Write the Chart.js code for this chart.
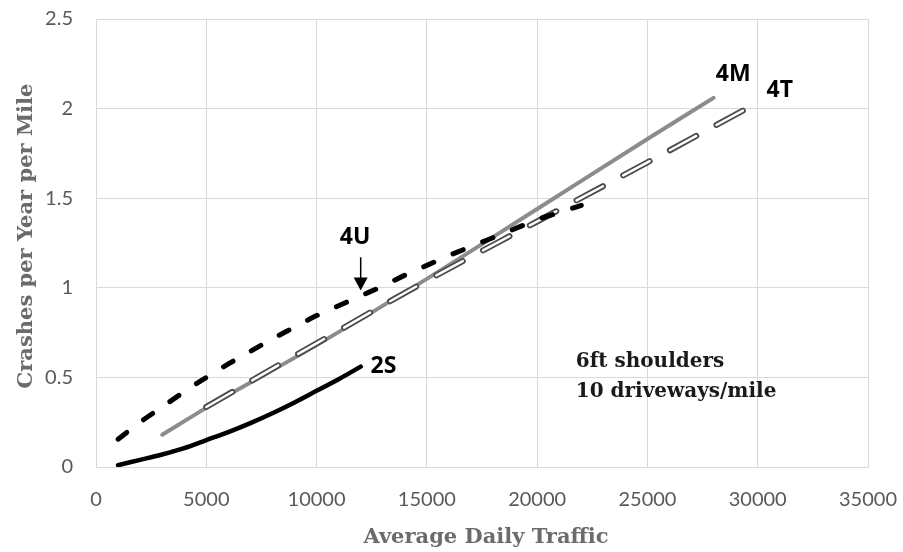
<!DOCTYPE html>
<html>
<head>
<meta charset="utf-8">
<script src="https://cdn.jsdelivr.net/npm/chart.js@4.4.0/dist/chart.umd.min.js"></script>
<style>
    html, body { margin: 0; padding: 0; background: #ffffff; }
</style>
</head>
<body>
<canvas id="crashChart" width="903" height="552"></canvas>
<script>
// ---------------------------------------------
// DATA
// ---------------------------------------------
const xTicks = [0, 5000, 10000, 15000, 20000, 25000, 30000, 35000];
const yTicks = [0, 0.5, 1, 1.5, 2, 2.5];

// 2S - two-lane with shoulders
const adt2S = [1000, 2000, 3000, 4000, 5000, 6000, 7000, 8000, 9000, 10000, 11000, 12000];
const crashes2S = [0.01, 0.04, 0.07, 0.105, 0.15, 0.195, 0.245, 0.30, 0.36, 0.425, 0.49, 0.56];

// 4U - four-lane undivided
const adt4U = [1000, 2000, 3000, 4000, 5000, 6000, 7000, 8000, 9000, 10000, 11000,
               12000, 13000, 14000, 15000, 16000, 17000, 18000, 19000, 20000, 21000, 22000];
const crashes4U = [0.155, 0.25, 0.335, 0.42, 0.50, 0.575, 0.645, 0.715, 0.78, 0.845, 0.90,
                   0.955, 1.01, 1.07, 1.125, 1.18, 1.23, 1.28, 1.33, 1.38, 1.42, 1.46];

// 4M - four-lane median divided
const adt4M = [3000, 5000, 10000, 15000, 20000, 25000, 28000];
const crashes4M = [0.18, 0.33, 0.68, 1.05, 1.44, 1.83, 2.06];

// 4T - four-lane with two-way left turn lane
const adt4T = [5000, 10000, 15000, 20000, 25000, 29500];
const crashes4T = [0.335, 0.69, 1.04, 1.37, 1.70, 2.0];

function toPoints(xs, ys) {
    return xs.map((v, i) => ({ x: v, y: ys[i] }));
}

// draw text squeezed horizontally so it spans roughly `width` px
function fitText(ctx, text, px, py, width) {
    const k = Math.min(1, width / ctx.measureText(text).width);
    ctx.save();
    ctx.translate(px, py);
    ctx.scale(k, 1);
    ctx.fillText(text, 0, 0);
    ctx.restore();
}

// ---------------------------------------------
// LABELS + ARROW + AXIS TITLES
// ---------------------------------------------
const notesPlugin = {
    id: "notes",
    afterDatasetsDraw(chart) {
        const { ctx, scales: { x, y } } = chart;
        ctx.save();

        // curve labels
        ctx.fillStyle = "#000000";
        ctx.font = "bold 23px 'Open Sans'";
        ctx.textBaseline = "middle";
        ctx.textAlign = "left";
        ctx.fillText("4U", x.getPixelForValue(11050), y.getPixelForValue(1.28));
        ctx.fillText("2S", x.getPixelForValue(12450), y.getPixelForValue(0.56));
        ctx.fillText("4M", x.getPixelForValue(28100), y.getPixelForValue(2.19));
        ctx.fillText("4T", x.getPixelForValue(30400), y.getPixelForValue(2.10));

        // arrow pointing at 4U
        const ax = x.getPixelForValue(12000);
        const top = y.getPixelForValue(1.17);
        const tip = y.getPixelForValue(0.985);
        ctx.strokeStyle = "#000000";
        ctx.lineWidth = 1.5;
        ctx.beginPath();
        ctx.moveTo(ax, top);
        ctx.lineTo(ax, tip - 10);
        ctx.stroke();
        ctx.beginPath();
        ctx.moveTo(ax, tip);
        ctx.lineTo(ax - 7, tip - 13);
        ctx.lineTo(ax + 7, tip - 13);
        ctx.closePath();
        ctx.fill();

        // condition note
        ctx.font = "bold 20px 'DejaVu Serif'";
        ctx.textBaseline = "alphabetic";
        ctx.fillStyle = "#1a1a1a";
        fitText(ctx, "6ft shoulders", x.getPixelForValue(21750), y.getPixelForValue(0.56), 152);
        fitText(ctx, "10 driveways/mile", x.getPixelForValue(21750), y.getPixelForValue(0.39), 211);

        ctx.restore();
    },
    afterDraw(chart) {
        const { ctx } = chart;
        ctx.save();
        ctx.fillStyle = "#6b6b6b";
        ctx.font = "bold 21px 'DejaVu Serif'";
        ctx.textAlign = "center";
        ctx.textBaseline = "middle";

        // x title
        ctx.fillText("Average Daily Traffic", 486, 538);

        // y title
        ctx.translate(27, 236);
        ctx.rotate(-Math.PI / 2);
        ctx.fillText("Crashes per Year per Mile", 0, 0);
        ctx.restore();
    }
};

// ---------------------------------------------
// CHART
// ---------------------------------------------
function initChart() {
    const canvas = document.getElementById("crashChart");

    new Chart(canvas.getContext("2d"), {
        type: "line",
        data: {
            datasets: [
                {
                    label: "2S",
                    data: toPoints(adt2S, crashes2S),
                    borderColor: "#000000",
                    borderWidth: 4.5,
                    borderCapStyle: "round",
                    cubicInterpolationMode: "monotone"
                },
                {
                    label: "4U",
                    data: toPoints(adt4U, crashes4U),
                    borderColor: "#000000",
                    borderWidth: 5,
                    borderDash: [11, 21],
                    borderCapStyle: "round",
                    cubicInterpolationMode: "monotone"
                },
                {
                    label: "4T inner",
                    data: toPoints(adt4T, crashes4T),
                    borderColor: "#ffffff",
                    borderWidth: 2.5,
                    borderDash: [30, 23],
                    borderCapStyle: "round",
                    cubicInterpolationMode: "monotone"
                },
                {
                    label: "4T",
                    data: toPoints(adt4T, crashes4T),
                    borderColor: "#4a4a4a",
                    borderWidth: 6,
                    borderDash: [30, 23],
                    borderCapStyle: "round",
                    cubicInterpolationMode: "monotone"
                },
                {
                    label: "4M",
                    data: toPoints(adt4M, crashes4M),
                    borderColor: "#8c8c8c",
                    borderWidth: 4,
                    borderCapStyle: "round",
                    cubicInterpolationMode: "monotone"
                }
            ]
        },
        options: {
            responsive: false,
            animation: false,
            devicePixelRatio: 1,
            layout: {
                padding: { top: 19, right: 35, left: 0, bottom: 0 }
            },
            elements: {
                point: { radius: 0, hoverRadius: 0 }
            },
            plugins: {
                legend: { display: false },
                tooltip: { enabled: false }
            },
            scales: {
                x: {
                    type: "linear",
                    min: 0,
                    max: 35000,
                    afterFit: (scale) => { scale.height = 85; },
                    afterBuildTicks: (scale) => { scale.ticks = xTicks.map(v => ({ value: v })); },
                    grid: { color: "#d9d9d9", lineWidth: 1, drawTicks: true, tickLength: 21, tickColor: "rgba(0,0,0,0)" },
                    border: { color: "#d9d9d9" },
                    ticks: {
                        padding: 0,
                        maxRotation: 0,
                        color: "#595959",
                        font: { family: "Lato", size: 20 },
                        callback: (v) => String(v)
                    }
                },
                y: {
                    type: "linear",
                    min: 0,
                    max: 2.5,
                    afterFit: (scale) => { scale.width = 96; },
                    afterBuildTicks: (scale) => { scale.ticks = yTicks.map(v => ({ value: v })); },
                    grid: { color: "#d9d9d9", lineWidth: 1, drawTicks: true, tickLength: 23, tickColor: "rgba(0,0,0,0)" },
                    border: { color: "#d9d9d9" },
                    ticks: {
                        padding: 0,
                        color: "#595959",
                        font: { family: "Lato", size: 20 },
                        callback: (v) => String(v)
                    }
                }
            }
        },
        plugins: [notesPlugin]
    });
}

document.addEventListener("DOMContentLoaded", () => {
    initChart();
});
</script>
</body>
</html>
